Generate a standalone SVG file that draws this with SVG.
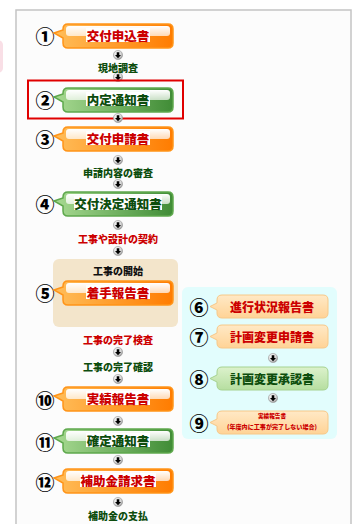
<svg xmlns="http://www.w3.org/2000/svg" width="356" height="524" viewBox="0 0 356 524">
<style>
.num{font-family:"Noto Sans CJK JP","DejaVu Sans",sans-serif;font-size:19px;font-weight:900;fill:#000;text-anchor:middle;dominant-baseline:central}
.lbl{font-family:"Noto Sans CJK JP",sans-serif;font-size:12.5px;font-weight:900;text-anchor:middle;dominant-baseline:central}
.red{fill:#cc0000}
.grn{fill:#0d4d0d}
.blk{fill:#111}
.step{font-family:"Noto Sans CJK JP",sans-serif;font-size:10px;font-weight:900;text-anchor:middle;dominant-baseline:central}
.sub{font-family:"Noto Sans CJK JP",sans-serif;font-size:12px;font-weight:900;text-anchor:middle;dominant-baseline:central}
.box{fill:#fff}
.oN{fill:url(#gOr);stroke:#ff9418;stroke-width:1.5}
.gN{fill:url(#gGr);stroke:#5ea84c;stroke-width:1.5}
.oS{fill:url(#gOrL);stroke:#f7c888;stroke-width:1}
.gS{fill:url(#gGrL);stroke:#a6d290;stroke-width:1}
</style>
<defs>
<linearGradient id="gOr" x1="0" y1="0" x2="1" y2="0"><stop offset="0" stop-color="#ffbe5a"/><stop offset="1" stop-color="#ff7c00"/></linearGradient>
<linearGradient id="gGr" x1="0" y1="0" x2="1" y2="0"><stop offset="0" stop-color="#a8da92"/><stop offset="1" stop-color="#408c36"/></linearGradient>
<linearGradient id="gOrL" x1="0" y1="0" x2="0" y2="1"><stop offset="0" stop-color="#ffe9c6"/><stop offset="1" stop-color="#ffd396"/></linearGradient>
<linearGradient id="gGrL" x1="0" y1="0" x2="0" y2="1"><stop offset="0" stop-color="#dcf2cc"/><stop offset="1" stop-color="#b6dea0"/></linearGradient>
<linearGradient id="gloss" x1="0" y1="0" x2="0" y2="1"><stop offset="0" stop-color="#fff" stop-opacity="1"/><stop offset="1" stop-color="#fff" stop-opacity="0.7"/></linearGradient>
<radialGradient id="gBall" cx="0.4" cy="0.35" r="0.7"><stop offset="0" stop-color="#ffffff"/><stop offset="0.6" stop-color="#d6d6d6"/><stop offset="1" stop-color="#8a8a8a"/></radialGradient>
<path id="big" d="M14,0 H114 Q119,0 119,5 V19 Q119,24 114,24 H14 Q9,24 9,19 V14 L0,9 L9,6 V5 Q9,0 14,0 Z"/>
<path id="small" d="M12,0 H113 Q118,0 118,5 V18 Q118,23 113,23 H12 Q7,23 7,18 V15 L0,11.5 L7,8 V5 Q7,0 12,0 Z"/>
<g id="ball"><circle r="4.6" fill="url(#gBall)" stroke="#9a9a9a" stroke-width="0.6"/><path d="M-1.3,-2.8 H1.3 V0 H3 L0,3.2 L-3,0 H-1.3 Z" fill="#000"/></g>
</defs>
<rect x="0" y="0" width="356" height="524" fill="#fff"/>
<rect x="-10" y="40" width="13" height="33" rx="5" fill="#f9dfe6"/>
<rect x="16" y="10" width="335" height="520" fill="#fcfcfc" stroke="#c4c4c4" stroke-width="1.5"/>
<rect x="53" y="259" width="125" height="68" rx="6" fill="#f3e5cb"/>
<rect x="182" y="287" width="155" height="152" rx="6" fill="#e2fdfd"/>

<g id="connectors">
<use href="#ball" x="118" y="55"/>
<use href="#ball" x="118" y="77"/>
<use href="#ball" x="118" y="160"/>
<use href="#ball" x="118" y="184"/>
<use href="#ball" x="118" y="225"/>
<use href="#ball" x="118" y="251"/>
<use href="#ball" x="118" y="352"/>
<use href="#ball" x="118" y="379"/>
<use href="#ball" x="118" y="421"/>
<use href="#ball" x="118" y="460"/>
<use href="#ball" x="118" y="502"/>
<use href="#ball" x="273" y="358"/>
<use href="#ball" x="273" y="398"/>
</g>

<g id="steps">
<text class="step grn" x="118" y="67">現地調査</text>
<text class="step grn" x="118" y="172">申請内容の審査</text>
<text class="step red" x="118" y="238">工事や設計の契約</text>
<text class="step blk" x="118" y="270">工事の開始</text>
<text class="step red" x="118" y="339">工事の完了検査</text>
<text class="step grn" x="118" y="366">工事の完了確認</text>
<text class="step grn" x="118" y="515">補助金の支払</text>
</g>

<g id="n1">
<text class="num" x="45" y="35">①</text>
<use href="#big" class="oN" transform="translate(54,24)"/>
<rect x="66" y="26" width="104" height="10" rx="3" fill="url(#gloss)"/>
<rect class="box" x="86" y="28" width="64" height="14"/>
<text class="lbl red" x="118" y="35">交付申込書</text>
</g>

<g id="n2">
<text class="num" x="45" y="99">②</text>
<use href="#big" class="gN" transform="translate(54,88)"/>
<rect x="66" y="90" width="104" height="10" rx="3" fill="url(#gloss)"/>
<rect class="box" x="86" y="92" width="64" height="14"/>
<text class="lbl grn" x="118" y="99">内定通知書</text>
</g>
<rect id="highlight" x="28" y="80.5" width="155" height="38" fill="none" stroke="#e00000" stroke-width="2"/>
<use href="#ball" x="118" y="118"/>

<g id="n3">
<text class="num" x="45" y="138">③</text>
<use href="#big" class="oN" transform="translate(54,127)"/>
<rect x="66" y="129" width="104" height="10" rx="3" fill="url(#gloss)"/>
<rect class="box" x="86" y="131" width="64" height="14"/>
<text class="lbl red" x="118" y="138">交付申請書</text>
</g>

<g id="n4">
<text class="num" x="45" y="203">④</text>
<use href="#big" class="gN" transform="translate(54,192)"/>
<rect x="66" y="194" width="104" height="10" rx="3" fill="url(#gloss)"/>
<rect class="box" x="74" y="196" width="88" height="14"/>
<text class="lbl grn" x="118" y="203">交付決定通知書</text>
</g>

<g id="n5">
<text class="num" x="45" y="292">⑤</text>
<use href="#big" class="oN" transform="translate(54,281)"/>
<rect x="66" y="283" width="104" height="10" rx="3" fill="url(#gloss)"/>
<rect class="box" x="86" y="285" width="64" height="14"/>
<text class="lbl red" x="118" y="292">着手報告書</text>
</g>

<g id="n6">
<text class="num" x="199" y="306">⑥</text>
<use href="#small" class="oS" transform="translate(210,295)"/>
<text class="sub red" x="272" y="306.5">進行状況報告書</text>
</g>

<g id="n7">
<text class="num" x="199" y="336">⑦</text>
<use href="#small" class="oS" transform="translate(210,325)"/>
<text class="sub red" x="272" y="336.5">計画変更申請書</text>
</g>

<g id="n8">
<text class="num" x="199" y="378">⑧</text>
<use href="#small" class="gS" transform="translate(210,367)"/>
<text class="sub grn" x="272" y="378.5">計画変更承認書</text>
</g>

<g id="n9">
<text class="num" x="199" y="422">⑨</text>
<use href="#small" class="oS" transform="translate(210,411)"/>
<text class="red" x="272" y="416" font-family="Noto Sans CJK JP,sans-serif" font-size="5.6" font-weight="900" text-anchor="middle" dominant-baseline="central">実績報告書</text>
<text class="red" x="272" y="426" font-family="Noto Sans CJK JP,sans-serif" font-size="6.2" font-weight="900" text-anchor="middle" dominant-baseline="central" textLength="90" lengthAdjust="spacingAndGlyphs">(年度内に工事が完了しない場合)</text>
</g>

<g id="n10">
<text class="num" x="45" y="399">⑩</text>
<use href="#big" class="oN" transform="translate(54,387)"/>
<rect x="66" y="389" width="104" height="10" rx="3" fill="url(#gloss)"/>
<rect class="box" x="86" y="391" width="64" height="14"/>
<text class="lbl red" x="118" y="398">実績報告書</text>
</g>

<g id="n11">
<text class="num" x="45" y="441">⑪</text>
<use href="#big" class="gN" transform="translate(54,429)"/>
<rect x="66" y="431" width="104" height="10" rx="3" fill="url(#gloss)"/>
<rect class="box" x="86" y="433" width="64" height="14"/>
<text class="lbl grn" x="118" y="440">確定通知書</text>
</g>

<g id="n12">
<text class="num" x="45" y="481">⑫</text>
<use href="#big" class="oN" transform="translate(54,469)"/>
<rect x="66" y="471" width="104" height="10" rx="3" fill="url(#gloss)"/>
<rect class="box" x="80" y="473" width="76" height="14"/>
<text class="lbl red" x="118" y="480">補助金請求書</text>
</g>
</svg>
